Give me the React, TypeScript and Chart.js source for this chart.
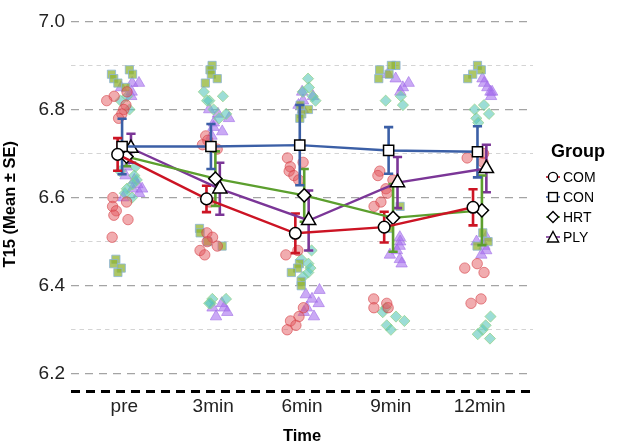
import React, { useEffect, useRef } from 'react';
import { Chart, registerables } from 'chart.js';

Chart.register(...registerables);

// ---------- data ----------
const times = ['pre', '3min', '6min', '9min', '12min'];
const groups = ['COM', 'CON', 'HRT', 'PLY'];

const yGridTicks = [6.2, 6.3, 6.4, 6.5, 6.6, 6.7, 6.8, 6.9, 7.0];
const yLabelTicks = [6.2, 6.4, 6.6, 6.8, 7.0];

const meanCOM = [6.698, 6.597, 6.519, 6.533, 6.578];
const seCOM = [0.037, 0.030, 0.045, 0.035, 0.041];
const meanCON = [6.716, 6.716, 6.719, 6.707, 6.704];
const seCON = [0.063, 0.051, 0.091, 0.053, 0.058];
const meanHRT = [6.693, 6.643, 6.605, 6.554, 6.571];
const seHRT = [0.022, 0.062, 0.060, 0.077, 0.079];
const meanPLY = [6.712, 6.620, 6.548, 6.634, 6.666];
const sePLY = [0.033, 0.059, 0.068, 0.058, 0.054];

const rawCOM = [
  [6.84, 6.83, 6.82, 6.81, 6.80, 6.79, 6.78, 6.60, 6.59, 6.58, 6.57, 6.56, 6.55, 6.51],
  [6.74, 6.73, 6.72, 6.71, 6.59, 6.52, 6.51, 6.50, 6.49, 6.48, 6.47],
  [6.69, 6.68, 6.67, 6.66, 6.65, 6.64, 6.48, 6.47, 6.35, 6.33, 6.32, 6.31, 6.30],
  [6.66, 6.65, 6.64, 6.62, 6.61, 6.59, 6.58, 6.37, 6.36, 6.35, 6.35],
  [6.70, 6.69, 6.68, 6.45, 6.44, 6.43, 6.37, 6.36],
];
const rawCON = [
  [6.89, 6.88, 6.88, 6.87, 6.86, 6.85, 6.46, 6.45, 6.44, 6.43],
  [6.90, 6.89, 6.88, 6.87, 6.86, 6.53, 6.52, 6.50, 6.49],
  [6.81, 6.80, 6.79, 6.78, 6.45, 6.44, 6.43, 6.41, 6.40],
  [6.90, 6.90, 6.89, 6.88, 6.87, 6.58, 6.53],
  [6.90, 6.89, 6.88, 6.87, 6.52, 6.50, 6.49],
];
const rawHRT = [
  [6.83, 6.82, 6.80, 6.67, 6.66, 6.65, 6.64, 6.63, 6.62, 6.61, 6.60],
  [6.84, 6.83, 6.82, 6.82, 6.80, 6.79, 6.78, 6.37, 6.37, 6.36, 6.36],
  [6.87, 6.85, 6.84, 6.83, 6.82, 6.48, 6.46, 6.45, 6.44, 6.43, 6.42],
  [6.83, 6.82, 6.81, 6.35, 6.34, 6.33, 6.32, 6.31, 6.30],
  [6.81, 6.80, 6.79, 6.78, 6.77, 6.33, 6.31, 6.30, 6.29, 6.28],
];
const rawPLY = [
  [6.86, 6.86, 6.85, 6.84, 6.83, 6.67, 6.65, 6.64, 6.63, 6.62, 6.62, 6.61, 6.60],
  [6.80, 6.79, 6.78, 6.77, 6.76, 6.75, 6.74, 6.36, 6.35, 6.35, 6.34, 6.33],
  [6.84, 6.83, 6.82, 6.81, 6.80, 6.39, 6.38, 6.37, 6.36, 6.35, 6.34, 6.33],
  [6.88, 6.87, 6.86, 6.85, 6.84, 6.51, 6.50, 6.49, 6.48, 6.47, 6.46, 6.45],
  [6.87, 6.86, 6.85, 6.84, 6.84, 6.83, 6.51, 6.50, 6.49, 6.48, 6.47],
];

// ---------- styling ----------
const FONT = "'Liberation Sans', Arial, Helvetica, sans-serif";
const Y_MIN = 6.161;
const Y_MAX = 7.009;
const DODGE = [-0.075, -0.025, 0.025, 0.075];
const LINE_COLORS = ['#cc1424', '#3b5fa6', '#5c9f2e', '#7b3697'];
const MEAN_STYLES = ['circle', 'rect', 'rectRot', 'triangle'];
const MEAN_RADII = [5.8, 7.2, 6.6, 8.2];
const RAW_STYLES = ['circle', 'rect', 'rectRot', 'triangle'];
const RAW_RADII = [5.2, 5.8, 5.6, 6.6];
const RAW_FILL = [
  'rgba(228, 90, 96, 0.5)',
  'rgba(146, 180, 50, 0.75)',
  'rgba(90, 198, 186, 0.6)',
  'rgba(166, 112, 238, 0.6)',
];
const RAW_BORDER = [
  'rgba(214, 64, 70, 0.6)',
  'rgba(140, 180, 215, 0.8)',
  'rgba(150, 210, 130, 0.7)',
  'rgba(160, 110, 230, 0.6)',
];

const means = [meanCOM, meanCON, meanHRT, meanPLY];
const ses = [seCOM, seCON, seHRT, sePLY];
const raws = [rawCOM, rawCON, rawHRT, rawPLY];

function jitter(g: number, i: number, k: number): number {
  const s = Math.sin(g * 12.9898 + i * 78.233 + k * 37.719 + 1.3) * 43758.5453;
  return (s - Math.floor(s) - 0.5) * 0.26;
}

const isMajor = (v: number) => yLabelTicks.some((t) => Math.abs(t - v) < 1e-6);
const isMin = (v: number) => Math.abs(v - Y_MIN) < 1e-6;

function LegendMarker({ idx }: { idx: number }) {
  const c = LINE_COLORS[idx];
  const stroke = '#000';
  let shape: React.ReactNode = null;
  if (idx === 0) shape = <circle cx={8} cy={7} r={4.6} fill="#fff" stroke={stroke} strokeWidth={1.4} />;
  if (idx === 1) shape = <rect x={3.6} y={2.6} width={8.8} height={8.8} fill="#fff" stroke={stroke} strokeWidth={1.4} />;
  if (idx === 2) shape = <polygon points="8,1.6 13.4,7 8,12.4 2.6,7" fill="#fff" stroke={stroke} strokeWidth={1.4} />;
  if (idx === 3) shape = <polygon points="8,1.5 13.6,12 2.4,12" fill="#fff" stroke={stroke} strokeWidth={1.4} />;
  return (
    <svg width={16} height={14} style={{ display: 'block' }}>
      <line x1={1} y1={7} x2={15} y2={7} stroke={c} strokeWidth={1.6} />
      {shape}
    </svg>
  );
}

export default function App() {
  const ref = useRef<HTMLCanvasElement>(null);

  useEffect(() => {
    if (!ref.current) return;

    const scatterSets = groups.map((name, g) => ({
      type: 'line' as const,
      label: name + ' raw',
      data: raws[g].flatMap((vals, i) =>
        vals.map((v, k) => ({ x: i + DODGE[g] + jitter(g, i, k), y: v }))
      ),
      showLine: false,
      pointStyle: RAW_STYLES[g],
      pointRadius: RAW_RADII[g],
      pointBackgroundColor: RAW_FILL[g],
      pointBorderColor: RAW_BORDER[g],
      pointBorderWidth: 1,
      order: 3,
    }));

    const errorSets = groups.map((name, g) => ({
      type: 'line' as const,
      label: name + ' se',
      data: times.flatMap((_, i) => [
        { x: i + DODGE[g], y: means[g][i] - ses[g][i] },
        { x: i + DODGE[g], y: means[g][i] + ses[g][i] },
        { x: i + DODGE[g], y: null as any },
      ]),
      borderColor: LINE_COLORS[g],
      borderWidth: 2.6,
      spanGaps: false,
      pointStyle: 'line',
      pointRadius: 4.6,
      pointBorderColor: LINE_COLORS[g],
      pointBackgroundColor: LINE_COLORS[g],
      pointBorderWidth: 2.6,
      order: 2,
    }));

    const meanSets = groups.map((name, g) => ({
      type: 'line' as const,
      label: name,
      data: times.map((_, i) => ({ x: i + DODGE[g], y: means[g][i] })),
      borderColor: LINE_COLORS[g],
      borderWidth: 2.4,
      pointStyle: MEAN_STYLES[g],
      pointRadius: MEAN_RADII[g],
      pointBackgroundColor: '#ffffff',
      pointBorderColor: '#000000',
      pointBorderWidth: 1.5,
      order: 1,
    }));

    const chart = new Chart(ref.current, {
      type: 'line',
      data: { datasets: [...meanSets, ...errorSets, ...scatterSets] as any },
      options: {
        animation: false,
        responsive: false,
        devicePixelRatio: 1,
        events: [],
        layout: { padding: { top: 4, right: 84, left: 0, bottom: 0 } },
        plugins: { legend: { display: false }, tooltip: { enabled: false } },
        scales: {
          x: {
            type: 'linear',
            min: -0.6,
            max: 4.6,
            afterBuildTicks: (axis: any) => {
              axis.ticks = times.map((_, i) => ({ value: i }));
            },
            afterFit: (axis: any) => {
              axis.height = 54;
            },
            grid: { display: false },
            border: { display: false },
            ticks: {
              autoSkip: false,
              maxRotation: 0,
              padding: -4,
              color: '#222',
              font: { family: FONT, size: 19 },
              callback: (v: any) => times[Math.round(Number(v))] ?? '',
            },
            title: {
              display: true,
              text: 'Time',
              color: '#000',
              font: { family: FONT, size: 16.5, weight: 'bold', lineHeight: 1 },
              padding: { top: 0, bottom: 0 },
            },
          },
          y: {
            type: 'linear',
            min: Y_MIN,
            max: Y_MAX,
            afterBuildTicks: (axis: any) => {
              axis.ticks = [Y_MIN, ...yGridTicks].map((v) => ({ value: v }));
            },
            afterFit: (axis: any) => {
              axis.width = 71;
            },
            grid: {
              drawTicks: false,
              color: (ctx: any) => {
                const v = ctx.tick ? ctx.tick.value : NaN;
                if (isMin(v)) return '#000';
                return isMajor(v) ? '#a4a4a4' : '#d4d4d4';
              },
              lineWidth: (ctx: any) => {
                const v = ctx.tick ? ctx.tick.value : NaN;
                if (isMin(v)) return 3;
                return isMajor(v) ? 1.3 : 1;
              },
            },
            border: {
              display: false,
              dash: (ctx: any) => {
                const v = ctx.tick ? ctx.tick.value : NaN;
                if (isMin(v)) return [9, 6];
                return isMajor(v) ? [8, 6] : [4.5, 4];
              },
            },
            ticks: {
              autoSkip: false,
              padding: 6,
              color: '#222',
              font: { family: FONT, size: 19 },
              callback: (v: any) => (isMajor(Number(v)) ? Number(v).toFixed(1) : ''),
            },
            title: {
              display: true,
              text: 'T15 (Mean ± SE)',
              color: '#000',
              font: { family: FONT, size: 16.5, weight: 'bold', lineHeight: 1 },
              padding: { top: 2, bottom: 0 },
            },
          },
        },
      } as any,
    });

    return () => chart.destroy();
  }, []);

  const itemTops = [177.3, 197.3, 217.1, 236.6];

  return (
    <div style={{ position: 'fixed', left: 0, top: 0, width: 617, height: 445, background: '#fff' }}>
      <canvas ref={ref} width={617} height={445} style={{ display: 'block', width: 617, height: 445 }} />
      <div
        style={{
          position: 'absolute',
          left: 551,
          top: 140.7,
          fontFamily: FONT,
          fontWeight: 'bold',
          fontSize: 18,
          lineHeight: '20px',
          color: '#000',
        }}
      >
        Group
      </div>
      {groups.map((name, g) => (
        <div
          key={name}
          style={{
            position: 'absolute',
            left: 545,
            top: itemTops[g] - 10,
            height: 20,
            display: 'flex',
            alignItems: 'center',
            fontFamily: FONT,
            fontSize: 14,
            color: '#000',
          }}
        >
          <LegendMarker idx={g} />
          <span style={{ marginLeft: 2, lineHeight: '20px' }}>{name}</span>
        </div>
      ))}
    </div>
  );
}
